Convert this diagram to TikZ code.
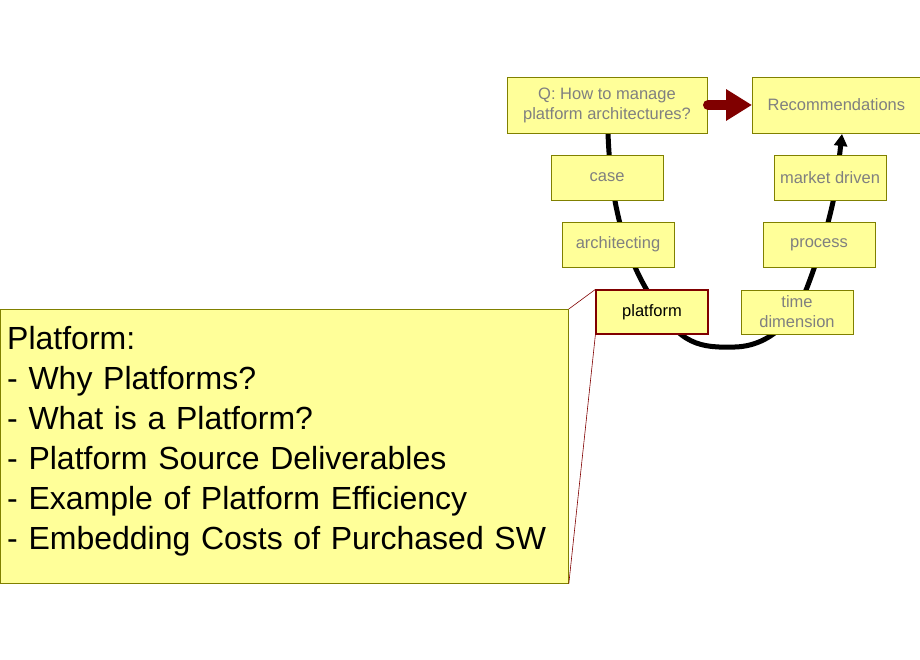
\documentclass[tikz,border=0pt]{standalone}
\usepackage{fontspec}
\setmainfont{Liberation Sans}
\usetikzlibrary{arrows.meta}
\definecolor{boxfill}{HTML}{FFFF99}
\definecolor{boxline}{HTML}{808000}
\definecolor{dred}{HTML}{800000}
\definecolor{txt}{HTML}{808080}
\begin{document}
\begin{tikzpicture}[x=1pt,y=-1pt,
  box/.style={draw=boxline,fill=boxfill,line width=0.8pt,inner sep=0pt,align=center,font=\fontsize{16.5}{20}\selectfont,text=txt},
  curve/.style={line width=5pt,black}]
\useasboundingbox (0,0) rectangle (920,660);
% curve
\draw[curve] (608,133) .. controls (610,190) and (620,250) .. (653,300)
  .. controls (680,345) and (700,348) .. (735,347)
  .. controls (770,346) and (795,320) .. (808,285)
  .. controls (825,240) and (838,190) .. (840,155);
\draw[curve,-{Triangle[length=12pt,width=13pt]}] (839,160) -- (842,134);
% nodes
\node[box,minimum width=200pt,minimum height=56pt] (q) at (607,105) {Q: How to manage\\platform architectures?};
\node[box,minimum width=168pt,minimum height=56pt,anchor=west] (r) at (752,105) {Recommendations};
\node[box,minimum width=112pt,minimum height=45pt] (case) at (607,177.5) {case};
\node[box,minimum width=112pt,minimum height=45pt] (arch) at (618,244.5) {architecting};
\node[box,minimum width=112pt,minimum height=44pt,draw=dred,text=black,line width=1.2pt] (plat) at (652,312) {platform};
\node[box,minimum width=112pt,minimum height=44pt] (time) at (797,312) {time\\dimension};
\node[box,minimum width=112pt,minimum height=45pt] (proc) at (819,244.5) {process};
\node[box,minimum width=112pt,minimum height=45pt] (mkt) at (830,177.5) {market driven};
% red arrow
\draw[dred,line width=10pt,line cap=round,-{Triangle[length=26pt,width=30pt]}] (708,105) -- (r.west);
% callout
\node[box,minimum width=568pt,minimum height=274pt,anchor=north west] (call) at (0,309) {};
\node[anchor=north west,align=left,font=\fontsize{32}{40}\selectfont,inner sep=0pt,text width=560pt] (calltxt) at (7,326)
{Platform:\\- Why Platforms?\\- What is a Platform?\\- Platform Source Deliverables\\- Example of Platform Efficiency\\- Embedding Costs of Purchased SW};
\draw[dred,line width=0.6pt] (call.north east) -- (plat.north west);
\draw[dred,line width=0.6pt] (call.south east) -- (plat.south west);
\end{tikzpicture}
\end{document}
